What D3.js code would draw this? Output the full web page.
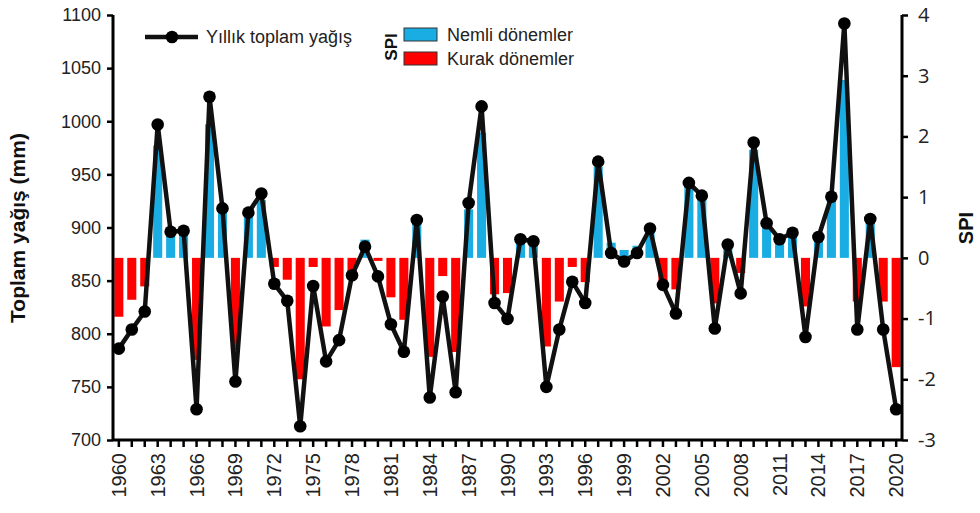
<!DOCTYPE html>
<html>
<head>
<meta charset="utf-8">
<script src="https://cdn.jsdelivr.net/npm/d3@7"></script>
<style>
  body { margin: 0; background: #fff; }
  text { font-family: "Liberation Sans", Arial, sans-serif; }
</style>
</head>
<body>
<script>
var years = d3.range(1960, 2021);

// yillik toplam yagis (mm)
var rain = [786, 804, 821, 997, 896, 897, 729, 1023, 918, 755,
            914, 932, 847, 831, 713, 845, 774, 794, 855, 882,
            854, 809, 783, 907, 740, 835, 745, 923, 1014, 829,
            814, 889, 887, 750, 804, 849, 829, 962, 876, 868,
            876, 899, 846, 819, 942, 930, 805, 884, 838, 980,
            904, 889, 895, 797, 891, 929, 1092, 804, 908, 804, 729];

// SPI
var spi = [-0.97, -0.69, -0.47, 1.85, 0.4, 0.4, -1.68, 2.2, 0.8, -1.52,
           0.68, 0.95, -0.15, -0.36, -2.0, -0.15, -1.13, -0.86, -0.3, 0.3,
           -0.05, -0.65, -1.02, 0.55, -1.63, -0.3, -1.55, 0.8, 2.06, -0.6,
           -0.58, 0.33, 0.3, -1.46, -0.72, -0.15, -0.4, 1.5, 0.25, 0.13,
           0.2, 0.46, -0.4, -0.52, 1.23, 1.07, -0.75, 0.22, -0.25, 1.78,
           0.52, 0.3, 0.4, -0.8, 0.35, 0.95, 2.93, -0.72, 0.57, -0.72, -1.8];

var leftTicks = [700, 750, 800, 850, 900, 950, 1000, 1050, 1100];
var rightTicks = [-3, -2, -1, 0, 1, 2, 3, 4];

var w = 980, h = 513;
var svg = d3.select("body").append("svg")
  .attr("width", w).attr("height", h);

var pLeft = 113, pRight = 902, pTop = 15, pBottom = 440;

var x = d3.scaleBand().domain(years).range([pLeft, pRight]).paddingInner(0.3).paddingOuter(0.1);
var yR = d3.scaleLinear().domain([700, 1100]).range([pBottom, pTop]);
var yS = d3.scaleLinear().domain([-3, 4]).range([pBottom, pTop]);

// SPI bars
svg.append("g").selectAll("rect")
  .data(years)
  .enter().append("rect")
  .attr("x", function(d){ return x(d); })
  .attr("width", x.bandwidth())
  .attr("y", function(d, i){ return yS(Math.max(0, spi[i])); })
  .attr("height", function(d, i){ return Math.abs(yS(spi[i]) - yS(0)); })
  .attr("fill", function(d, i){ return spi[i] >= 0 ? "#1aade4" : "#ff0000"; });

// line for yagis
var cx = function(d){ return x(d) + x.bandwidth() / 2; };
var line = d3.line()
  .x(function(d){ return cx(d); })
  .y(function(d, i){ return yR(rain[i]); });

svg.append("path")
  .datum(years)
  .attr("d", line)
  .attr("fill", "none")
  .attr("stroke", "#111")
  .attr("stroke-width", 4.5)
  .attr("stroke-linejoin", "round");

svg.append("g").selectAll("circle")
  .data(years)
  .enter().append("circle")
  .attr("cx", cx)
  .attr("cy", function(d, i){ return yR(rain[i]); })
  .attr("r", 6.3)
  .attr("fill", "#000");

// axes
var axL = d3.axisLeft(yR).tickValues(leftTicks).tickSize(6).tickPadding(6)
  .tickFormat(function(d){ return String(d); });
var gL = svg.append("g").attr("transform", "translate(" + pLeft + ",0)").call(axL);

var axR = d3.axisRight(yS).tickValues(rightTicks).tickSize(6).tickPadding(10)
  .tickFormat(function(d){ return String(d); });
var gR = svg.append("g").attr("transform", "translate(" + pRight + ",0)").call(axR);

var axB = d3.axisBottom(x).tickSize(7).tickPadding(0)
  .tickFormat(function(d){ return (d - 1960) % 3 === 0 ? d : ""; });
var gB = svg.append("g").attr("transform", "translate(0," + pBottom + ")").call(axB);

[gL, gR, gB].forEach(function(g){
  g.select(".domain").attr("stroke", "#000").attr("stroke-width", 3);
  g.selectAll(".tick line").attr("stroke", "#000").attr("stroke-width", 2.5);
  g.selectAll(".tick text").attr("fill", "#222").style("font-size", "18px");
});
gR.selectAll(".tick text").style("font-size", "20px").style("font-family", "'Open Sans', sans-serif");
gB.select(".domain").attr("d", "M" + pLeft + ",0H" + pRight);
gL.select(".domain").attr("d", "M0," + pTop + "V" + pBottom);
gR.select(".domain").attr("d", "M0," + pTop + "V" + pBottom);

gB.selectAll(".tick text")
  .style("font-size", "20px")
  .attr("transform", "rotate(-90)")
  .attr("text-anchor", "end")
  .attr("x", -13)
  .attr("y", 0)
  .attr("dy", "0.35em");

// axis titles
svg.append("text")
  .attr("transform", "translate(25," + 228 + ") rotate(-90)")
  .attr("text-anchor", "middle")
  .style("font-size", "21px").style("font-weight", "bold").attr("fill", "#111")
  .text("Toplam yağış (mm)");

svg.append("text")
  .attr("transform", "translate(973,228) rotate(-90)")
  .attr("text-anchor", "middle")
  .style("font-size", "20px").style("font-weight", "bold").attr("fill", "#111")
  .text("SPI");

// legend
var lg = svg.append("g");
lg.append("line").attr("x1", 145).attr("x2", 198).attr("y1", 37).attr("y2", 37)
  .attr("stroke", "#111").attr("stroke-width", 4.5);
lg.append("circle").attr("cx", 172).attr("cy", 37).attr("r", 6.3).attr("fill", "#000");
lg.append("text").attr("x", 206).attr("y", 43).style("font-size", "18px").attr("fill", "#222")
  .text("Yıllık toplam yağış");

lg.append("text")
  .attr("transform", "translate(397,47) rotate(-90)")
  .attr("text-anchor", "middle")
  .style("font-size", "17px").style("font-weight", "bold").attr("fill", "#111")
  .text("SPI");

var legItems = [["Nemli dönemler", "#1aade4", 28], ["Kurak dönemler", "#ff0000", 52]];
legItems.forEach(function(it){
  lg.append("rect").attr("x", 404).attr("y", it[2]).attr("width", 33).attr("height", 13)
    .attr("fill", it[1]).attr("stroke", "#333").attr("stroke-width", 1);
  lg.append("text").attr("x", 447).attr("y", it[2] + 13).style("font-size", "18px").attr("fill", "#222")
    .text(it[0]);
});
</script>
</body>
</html>
